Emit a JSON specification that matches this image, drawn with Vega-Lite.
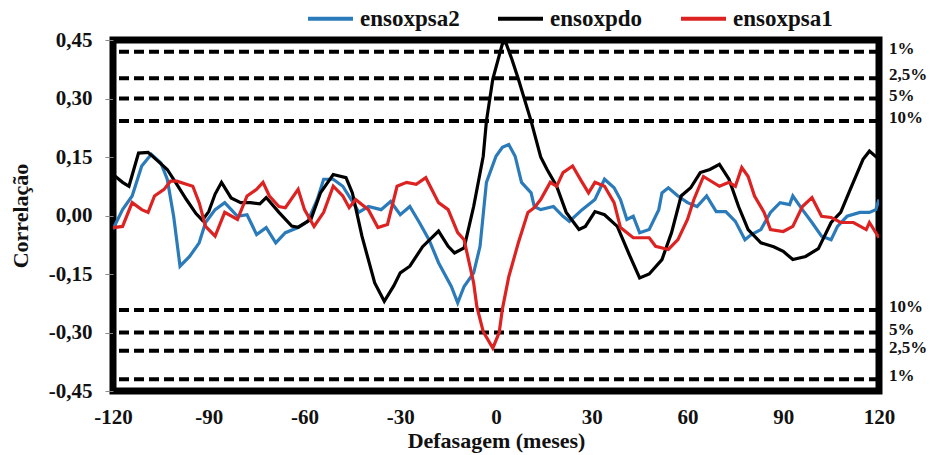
{
  "$schema": "https://vega.github.io/schema/vega-lite/v6.json",
  "width": 766,
  "height": 351,
  "autosize": {"type": "none"},
  "padding": {"left": 113, "top": 40, "right": 54, "bottom": 64},
  "background": "white",
  "config": {
    "view": {"stroke": "black", "strokeWidth": 7},
    "font": "Liberation Serif",
    "axis": {"grid": false, "domain": false, "labelFont": "Liberation Serif", "labelFontWeight": "bold", "labelFontSize": 21, "labelColor": "#111", "titleFont": "Liberation Serif", "titleFontWeight": "bold", "titleFontSize": 22, "titleColor": "#111"}
  },
  "datasets": {
    "thresholds": [
      {"value": 0.42, "label": "1%"},
      {"value": 0.352, "label": "2,5%"},
      {"value": 0.30, "label": "5%"},
      {"value": 0.242, "label": "10%"},
      {"value": -0.242, "label": "10%"},
      {"value": -0.30, "label": "5%"},
      {"value": -0.347, "label": "2,5%"},
      {"value": -0.42, "label": "1%"}
    ],
    "series": [
      {"s": "ensoxpsa2", "lag": -120, "r": -0.035},
      {"s": "ensoxpsa2", "lag": -117, "r": 0.015},
      {"s": "ensoxpsa2", "lag": -114, "r": 0.05},
      {"s": "ensoxpsa2", "lag": -111, "r": 0.127},
      {"s": "ensoxpsa2", "lag": -108, "r": 0.157},
      {"s": "ensoxpsa2", "lag": -105, "r": 0.135},
      {"s": "ensoxpsa2", "lag": -103, "r": 0.093},
      {"s": "ensoxpsa2", "lag": -101, "r": -0.002},
      {"s": "ensoxpsa2", "lag": -99, "r": -0.13},
      {"s": "ensoxpsa2", "lag": -96, "r": -0.105},
      {"s": "ensoxpsa2", "lag": -93, "r": -0.07},
      {"s": "ensoxpsa2", "lag": -91, "r": -0.018},
      {"s": "ensoxpsa2", "lag": -88, "r": 0.015},
      {"s": "ensoxpsa2", "lag": -85, "r": 0.033},
      {"s": "ensoxpsa2", "lag": -81, "r": -0.002},
      {"s": "ensoxpsa2", "lag": -78, "r": 0.002},
      {"s": "ensoxpsa2", "lag": -75, "r": -0.049},
      {"s": "ensoxpsa2", "lag": -72, "r": -0.031},
      {"s": "ensoxpsa2", "lag": -69, "r": -0.07},
      {"s": "ensoxpsa2", "lag": -66, "r": -0.044},
      {"s": "ensoxpsa2", "lag": -62, "r": -0.031},
      {"s": "ensoxpsa2", "lag": -59, "r": -0.015},
      {"s": "ensoxpsa2", "lag": -56, "r": 0.041},
      {"s": "ensoxpsa2", "lag": -54, "r": 0.093},
      {"s": "ensoxpsa2", "lag": -51, "r": 0.093},
      {"s": "ensoxpsa2", "lag": -48, "r": 0.075},
      {"s": "ensoxpsa2", "lag": -44, "r": 0.023},
      {"s": "ensoxpsa2", "lag": -43, "r": 0.008},
      {"s": "ensoxpsa2", "lag": -40, "r": 0.023},
      {"s": "ensoxpsa2", "lag": -36, "r": 0.015},
      {"s": "ensoxpsa2", "lag": -33, "r": 0.036},
      {"s": "ensoxpsa2", "lag": -30, "r": 0.002},
      {"s": "ensoxpsa2", "lag": -27, "r": 0.023},
      {"s": "ensoxpsa2", "lag": -24, "r": -0.018},
      {"s": "ensoxpsa2", "lag": -21, "r": -0.062},
      {"s": "ensoxpsa2", "lag": -18, "r": -0.121},
      {"s": "ensoxpsa2", "lag": -14, "r": -0.182},
      {"s": "ensoxpsa2", "lag": -12, "r": -0.224},
      {"s": "ensoxpsa2", "lag": -10, "r": -0.182},
      {"s": "ensoxpsa2", "lag": -7, "r": -0.147},
      {"s": "ensoxpsa2", "lag": -5, "r": -0.079},
      {"s": "ensoxpsa2", "lag": -3, "r": 0.085},
      {"s": "ensoxpsa2", "lag": 0, "r": 0.152},
      {"s": "ensoxpsa2", "lag": 2, "r": 0.175},
      {"s": "ensoxpsa2", "lag": 4, "r": 0.182},
      {"s": "ensoxpsa2", "lag": 6, "r": 0.152},
      {"s": "ensoxpsa2", "lag": 8, "r": 0.085},
      {"s": "ensoxpsa2", "lag": 11, "r": 0.058},
      {"s": "ensoxpsa2", "lag": 12, "r": 0.023},
      {"s": "ensoxpsa2", "lag": 14, "r": 0.015},
      {"s": "ensoxpsa2", "lag": 18, "r": 0.023},
      {"s": "ensoxpsa2", "lag": 21, "r": -0.002},
      {"s": "ensoxpsa2", "lag": 23, "r": -0.015},
      {"s": "ensoxpsa2", "lag": 27, "r": 0.015},
      {"s": "ensoxpsa2", "lag": 31, "r": 0.041},
      {"s": "ensoxpsa2", "lag": 34, "r": 0.093},
      {"s": "ensoxpsa2", "lag": 37, "r": 0.071},
      {"s": "ensoxpsa2", "lag": 39, "r": 0.041},
      {"s": "ensoxpsa2", "lag": 41, "r": -0.01},
      {"s": "ensoxpsa2", "lag": 43, "r": -0.002},
      {"s": "ensoxpsa2", "lag": 45, "r": -0.044},
      {"s": "ensoxpsa2", "lag": 48, "r": -0.036},
      {"s": "ensoxpsa2", "lag": 51, "r": 0.015},
      {"s": "ensoxpsa2", "lag": 52, "r": 0.058},
      {"s": "ensoxpsa2", "lag": 54, "r": 0.071},
      {"s": "ensoxpsa2", "lag": 57, "r": 0.05},
      {"s": "ensoxpsa2", "lag": 60, "r": 0.033},
      {"s": "ensoxpsa2", "lag": 63, "r": 0.023},
      {"s": "ensoxpsa2", "lag": 66, "r": 0.05},
      {"s": "ensoxpsa2", "lag": 69, "r": 0.01},
      {"s": "ensoxpsa2", "lag": 72, "r": 0.01},
      {"s": "ensoxpsa2", "lag": 75, "r": -0.015},
      {"s": "ensoxpsa2", "lag": 78, "r": -0.062},
      {"s": "ensoxpsa2", "lag": 80, "r": -0.049},
      {"s": "ensoxpsa2", "lag": 83, "r": -0.036},
      {"s": "ensoxpsa2", "lag": 86, "r": 0.008},
      {"s": "ensoxpsa2", "lag": 89, "r": 0.033},
      {"s": "ensoxpsa2", "lag": 92, "r": 0.028},
      {"s": "ensoxpsa2", "lag": 93, "r": 0.05},
      {"s": "ensoxpsa2", "lag": 96, "r": 0.015},
      {"s": "ensoxpsa2", "lag": 99, "r": -0.018},
      {"s": "ensoxpsa2", "lag": 102, "r": -0.053},
      {"s": "ensoxpsa2", "lag": 105, "r": -0.062},
      {"s": "ensoxpsa2", "lag": 107, "r": -0.028},
      {"s": "ensoxpsa2", "lag": 110, "r": -0.002},
      {"s": "ensoxpsa2", "lag": 114, "r": 0.008},
      {"s": "ensoxpsa2", "lag": 117, "r": 0.008},
      {"s": "ensoxpsa2", "lag": 119, "r": 0.015},
      {"s": "ensoxpsa2", "lag": 120, "r": 0.041},

      {"s": "ensoxpdo", "lag": -120, "r": 0.105},
      {"s": "ensoxpdo", "lag": -117, "r": 0.085},
      {"s": "ensoxpdo", "lag": -115, "r": 0.075},
      {"s": "ensoxpdo", "lag": -112, "r": 0.16},
      {"s": "ensoxpdo", "lag": -109, "r": 0.162},
      {"s": "ensoxpdo", "lag": -106, "r": 0.14},
      {"s": "ensoxpdo", "lag": -103, "r": 0.118},
      {"s": "ensoxpdo", "lag": -100, "r": 0.08},
      {"s": "ensoxpdo", "lag": -97, "r": 0.041},
      {"s": "ensoxpdo", "lag": -94, "r": 0.005},
      {"s": "ensoxpdo", "lag": -92, "r": -0.012},
      {"s": "ensoxpdo", "lag": -90, "r": 0.01},
      {"s": "ensoxpdo", "lag": -88, "r": 0.055},
      {"s": "ensoxpdo", "lag": -86, "r": 0.085},
      {"s": "ensoxpdo", "lag": -83, "r": 0.045},
      {"s": "ensoxpdo", "lag": -80, "r": 0.033},
      {"s": "ensoxpdo", "lag": -77, "r": 0.033},
      {"s": "ensoxpdo", "lag": -74, "r": 0.03},
      {"s": "ensoxpdo", "lag": -72, "r": 0.046},
      {"s": "ensoxpdo", "lag": -68, "r": 0.008},
      {"s": "ensoxpdo", "lag": -64, "r": -0.027},
      {"s": "ensoxpdo", "lag": -62, "r": -0.03},
      {"s": "ensoxpdo", "lag": -58, "r": -0.01},
      {"s": "ensoxpdo", "lag": -55, "r": 0.058},
      {"s": "ensoxpdo", "lag": -51, "r": 0.105},
      {"s": "ensoxpdo", "lag": -47, "r": 0.097},
      {"s": "ensoxpdo", "lag": -45, "r": 0.058},
      {"s": "ensoxpdo", "lag": -42, "r": -0.053},
      {"s": "ensoxpdo", "lag": -38, "r": -0.173},
      {"s": "ensoxpdo", "lag": -35, "r": -0.22},
      {"s": "ensoxpdo", "lag": -32, "r": -0.18},
      {"s": "ensoxpdo", "lag": -30, "r": -0.147},
      {"s": "ensoxpdo", "lag": -27, "r": -0.13},
      {"s": "ensoxpdo", "lag": -23, "r": -0.08},
      {"s": "ensoxpdo", "lag": -18, "r": -0.04},
      {"s": "ensoxpdo", "lag": -15, "r": -0.079},
      {"s": "ensoxpdo", "lag": -13, "r": -0.096},
      {"s": "ensoxpdo", "lag": -10, "r": -0.083},
      {"s": "ensoxpdo", "lag": -7, "r": 0.023},
      {"s": "ensoxpdo", "lag": -4, "r": 0.152},
      {"s": "ensoxpdo", "lag": -3, "r": 0.242},
      {"s": "ensoxpdo", "lag": -1, "r": 0.35},
      {"s": "ensoxpdo", "lag": 2, "r": 0.44},
      {"s": "ensoxpdo", "lag": 3, "r": 0.445},
      {"s": "ensoxpdo", "lag": 5, "r": 0.4},
      {"s": "ensoxpdo", "lag": 7, "r": 0.35},
      {"s": "ensoxpdo", "lag": 11, "r": 0.242},
      {"s": "ensoxpdo", "lag": 14, "r": 0.15},
      {"s": "ensoxpdo", "lag": 16, "r": 0.118},
      {"s": "ensoxpdo", "lag": 19, "r": 0.075},
      {"s": "ensoxpdo", "lag": 22, "r": 0.008},
      {"s": "ensoxpdo", "lag": 26, "r": -0.036},
      {"s": "ensoxpdo", "lag": 28, "r": -0.028},
      {"s": "ensoxpdo", "lag": 31, "r": 0.01},
      {"s": "ensoxpdo", "lag": 34, "r": 0.002},
      {"s": "ensoxpdo", "lag": 38, "r": -0.028},
      {"s": "ensoxpdo", "lag": 42, "r": -0.105},
      {"s": "ensoxpdo", "lag": 45, "r": -0.16},
      {"s": "ensoxpdo", "lag": 48, "r": -0.15},
      {"s": "ensoxpdo", "lag": 52, "r": -0.113},
      {"s": "ensoxpdo", "lag": 55, "r": -0.044},
      {"s": "ensoxpdo", "lag": 58, "r": 0.05},
      {"s": "ensoxpdo", "lag": 61, "r": 0.071},
      {"s": "ensoxpdo", "lag": 64, "r": 0.11},
      {"s": "ensoxpdo", "lag": 67, "r": 0.118},
      {"s": "ensoxpdo", "lag": 70, "r": 0.131},
      {"s": "ensoxpdo", "lag": 73, "r": 0.093},
      {"s": "ensoxpdo", "lag": 76, "r": 0.023},
      {"s": "ensoxpdo", "lag": 79, "r": -0.036},
      {"s": "ensoxpdo", "lag": 83, "r": -0.07},
      {"s": "ensoxpdo", "lag": 87, "r": -0.08},
      {"s": "ensoxpdo", "lag": 90, "r": -0.092},
      {"s": "ensoxpdo", "lag": 93, "r": -0.113},
      {"s": "ensoxpdo", "lag": 97, "r": -0.105},
      {"s": "ensoxpdo", "lag": 101, "r": -0.085},
      {"s": "ensoxpdo", "lag": 105, "r": -0.018},
      {"s": "ensoxpdo", "lag": 108, "r": 0.008},
      {"s": "ensoxpdo", "lag": 111, "r": 0.067},
      {"s": "ensoxpdo", "lag": 115, "r": 0.144},
      {"s": "ensoxpdo", "lag": 117, "r": 0.165},
      {"s": "ensoxpdo", "lag": 120, "r": 0.144},

      {"s": "ensoxpsa1", "lag": -120, "r": -0.031},
      {"s": "ensoxpsa1", "lag": -117, "r": -0.028},
      {"s": "ensoxpsa1", "lag": -114, "r": 0.033},
      {"s": "ensoxpsa1", "lag": -111, "r": 0.015},
      {"s": "ensoxpsa1", "lag": -109, "r": 0.008},
      {"s": "ensoxpsa1", "lag": -107, "r": 0.05},
      {"s": "ensoxpsa1", "lag": -104, "r": 0.067},
      {"s": "ensoxpsa1", "lag": -102, "r": 0.088},
      {"s": "ensoxpsa1", "lag": -100, "r": 0.088},
      {"s": "ensoxpsa1", "lag": -97, "r": 0.08},
      {"s": "ensoxpsa1", "lag": -95, "r": 0.075},
      {"s": "ensoxpsa1", "lag": -93, "r": 0.033},
      {"s": "ensoxpsa1", "lag": -91, "r": -0.028},
      {"s": "ensoxpsa1", "lag": -88, "r": -0.053},
      {"s": "ensoxpsa1", "lag": -85, "r": 0.008},
      {"s": "ensoxpsa1", "lag": -81, "r": -0.01},
      {"s": "ensoxpsa1", "lag": -78, "r": 0.05},
      {"s": "ensoxpsa1", "lag": -75, "r": 0.067},
      {"s": "ensoxpsa1", "lag": -73, "r": 0.085},
      {"s": "ensoxpsa1", "lag": -71, "r": 0.05},
      {"s": "ensoxpsa1", "lag": -68, "r": 0.023},
      {"s": "ensoxpsa1", "lag": -66, "r": 0.02},
      {"s": "ensoxpsa1", "lag": -62, "r": 0.067},
      {"s": "ensoxpsa1", "lag": -60, "r": 0.015},
      {"s": "ensoxpsa1", "lag": -57, "r": -0.028},
      {"s": "ensoxpsa1", "lag": -54, "r": 0.008},
      {"s": "ensoxpsa1", "lag": -51, "r": 0.075},
      {"s": "ensoxpsa1", "lag": -48, "r": 0.05},
      {"s": "ensoxpsa1", "lag": -46, "r": 0.02},
      {"s": "ensoxpsa1", "lag": -44, "r": 0.041},
      {"s": "ensoxpsa1", "lag": -40, "r": 0.015},
      {"s": "ensoxpsa1", "lag": -37, "r": -0.031},
      {"s": "ensoxpsa1", "lag": -34, "r": -0.023},
      {"s": "ensoxpsa1", "lag": -31, "r": 0.075},
      {"s": "ensoxpsa1", "lag": -28, "r": 0.085},
      {"s": "ensoxpsa1", "lag": -25, "r": 0.08},
      {"s": "ensoxpsa1", "lag": -22, "r": 0.097},
      {"s": "ensoxpsa1", "lag": -18, "r": 0.033},
      {"s": "ensoxpsa1", "lag": -15, "r": 0.015},
      {"s": "ensoxpsa1", "lag": -12, "r": -0.044},
      {"s": "ensoxpsa1", "lag": -10, "r": -0.062},
      {"s": "ensoxpsa1", "lag": -7, "r": -0.173},
      {"s": "ensoxpsa1", "lag": -6, "r": -0.234},
      {"s": "ensoxpsa1", "lag": -4, "r": -0.298},
      {"s": "ensoxpsa1", "lag": -1, "r": -0.34},
      {"s": "ensoxpsa1", "lag": 1, "r": -0.3},
      {"s": "ensoxpsa1", "lag": 2, "r": -0.24},
      {"s": "ensoxpsa1", "lag": 4, "r": -0.157},
      {"s": "ensoxpsa1", "lag": 7, "r": -0.07},
      {"s": "ensoxpsa1", "lag": 10, "r": 0.008},
      {"s": "ensoxpsa1", "lag": 12, "r": 0.02},
      {"s": "ensoxpsa1", "lag": 14, "r": 0.041},
      {"s": "ensoxpsa1", "lag": 17, "r": 0.085},
      {"s": "ensoxpsa1", "lag": 19, "r": 0.075},
      {"s": "ensoxpsa1", "lag": 21, "r": 0.11},
      {"s": "ensoxpsa1", "lag": 24, "r": 0.127},
      {"s": "ensoxpsa1", "lag": 27, "r": 0.085},
      {"s": "ensoxpsa1", "lag": 29, "r": 0.058},
      {"s": "ensoxpsa1", "lag": 31, "r": 0.085},
      {"s": "ensoxpsa1", "lag": 34, "r": 0.075},
      {"s": "ensoxpsa1", "lag": 37, "r": 0.033},
      {"s": "ensoxpsa1", "lag": 39, "r": -0.031},
      {"s": "ensoxpsa1", "lag": 43, "r": -0.057},
      {"s": "ensoxpsa1", "lag": 48, "r": -0.057},
      {"s": "ensoxpsa1", "lag": 50, "r": -0.079},
      {"s": "ensoxpsa1", "lag": 54, "r": -0.087},
      {"s": "ensoxpsa1", "lag": 57, "r": -0.062},
      {"s": "ensoxpsa1", "lag": 60, "r": -0.01},
      {"s": "ensoxpsa1", "lag": 62, "r": 0.041},
      {"s": "ensoxpsa1", "lag": 65, "r": 0.1},
      {"s": "ensoxpsa1", "lag": 70, "r": 0.075},
      {"s": "ensoxpsa1", "lag": 73, "r": 0.085},
      {"s": "ensoxpsa1", "lag": 75, "r": 0.075},
      {"s": "ensoxpsa1", "lag": 77, "r": 0.123},
      {"s": "ensoxpsa1", "lag": 79, "r": 0.1},
      {"s": "ensoxpsa1", "lag": 81, "r": 0.05},
      {"s": "ensoxpsa1", "lag": 84, "r": 0.008},
      {"s": "ensoxpsa1", "lag": 86, "r": -0.036},
      {"s": "ensoxpsa1", "lag": 90, "r": -0.041},
      {"s": "ensoxpsa1", "lag": 93, "r": -0.028},
      {"s": "ensoxpsa1", "lag": 96, "r": 0.023},
      {"s": "ensoxpsa1", "lag": 99, "r": 0.046},
      {"s": "ensoxpsa1", "lag": 102, "r": -0.002},
      {"s": "ensoxpsa1", "lag": 105, "r": -0.005},
      {"s": "ensoxpsa1", "lag": 108, "r": -0.018},
      {"s": "ensoxpsa1", "lag": 112, "r": -0.018},
      {"s": "ensoxpsa1", "lag": 116, "r": -0.036},
      {"s": "ensoxpsa1", "lag": 117, "r": -0.018},
      {"s": "ensoxpsa1", "lag": 120, "r": -0.057}
    ]
  },
  "layer": [
    {
      "data": {"name": "thresholds"},
      "mark": {"type": "rule", "stroke": "black", "strokeWidth": 4, "strokeDash": [10, 5]},
      "encoding": {
        "y": {"field": "value", "type": "quantitative", "scale": {"domain": [-0.45, 0.45]}}
      }
    },
    {
      "data": {"name": "thresholds"},
      "mark": {"type": "text", "align": "left", "baseline": "middle", "dx": 10, "dy": -3, "font": "Liberation Serif", "fontWeight": "bold", "fontSize": 17, "color": "#111"},
      "encoding": {
        "x": {"datum": 120, "type": "quantitative"},
        "y": {"field": "value", "type": "quantitative"},
        "text": {"field": "label"}
      }
    },
    {
      "data": {"name": "series"},
      "mark": {"type": "line", "strokeWidth": 3.2, "clip": true},
      "encoding": {
        "x": {
          "field": "lag", "type": "quantitative",
          "scale": {"domain": [-120, 120], "nice": false},
          "axis": {"values": [-120, -90, -60, -30, 0, 30, 60, 90, 120], "ticks": false, "labelFlush": false, "labelPadding": 15, "labelExpr": "replace(format(datum.value, 'd'), '\u2212', '-')", "title": "Defasagem (meses)", "titlePadding": 3}
        },
        "y": {
          "field": "r", "type": "quantitative",
          "scale": {"domain": [-0.45, 0.45], "nice": false},
          "axis": {"values": [-0.45, -0.3, -0.15, 0, 0.15, 0.3, 0.45], "tickSize": 8, "tickColor": "#888", "tickWidth": 1, "labelPadding": 13, "labelExpr": "replace(replace(format(datum.value, '.2f'), '.', ','), '\u2212', '-')", "title": "Correlação", "titlePadding": 16}
        },
        "color": {
          "field": "s", "type": "nominal",
          "scale": {"domain": ["ensoxpsa2", "ensoxpdo", "ensoxpsa1"], "range": ["#2B7BBA", "#000000", "#DD2222"]},
          "legend": {
            "title": null, "orient": "none", "direction": "horizontal", "legendX": 193, "legendY": -46,
            "symbolType": "stroke", "symbolSize": 2025, "symbolStrokeWidth": 4,
            "labelFont": "Liberation Serif", "labelFontWeight": "bold", "labelFontSize": 23, "labelColor": "#111",
            "labelOffset": 5, "columnPadding": 30, "padding": 0
          }
        }
      }
    }
  ]
}
